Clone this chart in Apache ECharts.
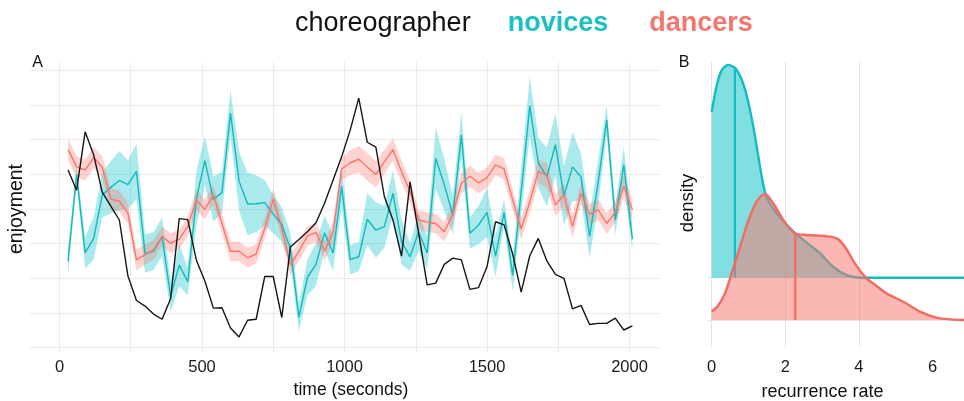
<!DOCTYPE html>
<html><head><meta charset="utf-8">
<script src="https://cdn.jsdelivr.net/npm/echarts@6/dist/echarts.min.js"></script>
<style>html,body{margin:0;padding:0;background:#fff}#c{width:964px;height:401px}</style>
</head><body><div id="c"></div>
<script>
// ---------- Panel A data ----------
const times = [30,60,90,120,150,180,210,240,270,300,330,360,390,420,450,480,510,540,570,600,630,660,690,720,750,780,810,840,870,900,930,960,990,1020,1050,1080,1110,1140,1170,1200,1230,1260,1290,1320,1350,1380,1410,1440,1470,1500,1530,1560,1590,1620,1650,1680,1710,1740,1770,1800,1830,1860,1890,1920,1950,1980,2010];
const choreographer = [5.12,4.54,6.22,5.55,4.48,4.08,3.68,2.07,1.36,1.20, 0.97,0.82,1.42,3.72,3.69,2.53,1.92,1.14,1.15,0.57, 0.31,0.79,0.82,2.05,2.05,0.87,2.90,3.12,3.34,3.60, 4.16,4.83,5.50,6.27,7.19,5.92,5.78,4.35,3.68,2.64, 4.78,3.30,1.81,1.86,2.40,2.58,2.53,1.68,1.73,2.33, 3.63,3.54,2.70,1.60,2.65,3.15,2.50,2.11,2.00,1.12, 1.22,0.67,0.70,0.70,0.85,0.51,0.63];
const novices = [2.49,4.99,2.73,3.15,4.40,4.62,4.82,4.70,5.08,2.72, 2.78,3.20,1.47,2.38,1.90,4.28,5.39,4.28,4.47,6.76, 4.80,4.14,4.15,4.18,3.85,3.55,2.86,0.88,2.03,2.40, 3.31,2.73,4.65,2.54,2.62,3.70,3.39,3.49,4.45,3.05, 2.62,3.34,2.73,5.46,4.70,3.82,6.13,3.30,3.53,3.90, 2.64,3.90,2.08,4.50,6.96,5.33,4.92,5.85,4.38,5.21, 4.92,3.21,4.76,6.56,3.68,5.27,3.13];
const novicesSE = [0.40,0.25,0.45,0.60,0.65,0.75,0.85,0.70,0.80,0.55, 0.55,0.55,0.45,0.60,0.40,0.80,0.70,0.65,0.60,0.65, 0.85,0.90,0.82,0.65,0.55,0.50,0.45,0.40,0.52,0.62, 0.50,0.52,0.60,0.42,0.42,0.75,0.80,0.60,0.65,0.65, 0.40,0.55,0.48,0.88,0.75,0.55,0.66,0.45,0.55,0.70, 0.60,0.38,0.45,0.70,0.85,0.72,0.85,0.90,0.85,1.00, 0.68,0.60,0.68,0.40,0.43,0.53,0.35];
const dancers = [5.71,5.21,5.12,5.48,5.20,4.28,4.22,3.88,2.53,2.68, 2.82,3.21,3.01,3.13,3.49,4.26,3.98,4.41,3.58,2.78, 2.78,2.59,2.70,3.44,4.28,3.44,2.38,2.78,3.22,3.32, 2.79,3.34,5.15,5.33,5.43,5.21,4.99,5.36,5.71,5.08, 4.50,3.68,3.62,3.58,3.34,3.85,4.74,4.94,4.75,4.90, 5.27,5.15,4.26,3.42,4.20,5.08,4.97,4.11,4.40,3.49, 4.45,3.85,3.97,3.58,3.90,4.65,3.98];
const dancersSE = [0.32,0.30,0.30,0.30,0.32,0.32,0.30,0.30,0.30,0.28, 0.28,0.28,0.28,0.28,0.28,0.30,0.28,0.28,0.28,0.28, 0.28,0.28,0.28,0.30,0.30,0.30,0.28,0.28,0.28,0.28, 0.28,0.30,0.32,0.35,0.38,0.40,0.38,0.35,0.32,0.32, 0.30,0.28,0.28,0.28,0.28,0.30,0.30,0.30,0.30,0.30, 0.30,0.30,0.30,0.30,0.32,0.35,0.35,0.32,0.32,0.32, 0.30,0.30,0.30,0.30,0.30,0.32,0.30];
const timeTicks = [0,500,1000,1500,2000];
const timeGrid = [0,250,500,750,1000,1250,1500,1750,2000];
const enjoymentGrid = [0,1,2,3,4,5,6,7,8];

// ---------- Panel B data ----------
const noviceDensityX = [0,0.14,0.27,0.45,0.68,0.91,1.13,1.36,1.49,1.77,2.22,2.67,2.94,3.30,3.67,4.03,4.6,6.9];
const noviceDensityY = [4.92,5.56,5.90,6.03,5.91,5.44,4.57,3.39,2.91,2.52,2.09,1.77,1.58,1.26,1.06,1.0,1.0,1.0];
const dancerDensityX = [0,0.18,0.36,0.54,0.77,1.0,1.22,1.45,1.67,1.95,2.26,2.58,3.12,3.40,3.62,3.89,4.17,4.44,4.75,5.21,5.66,6.11,6.57,6.9];
const dancerDensityY = [0.20,0.35,0.63,1.10,1.73,2.36,2.80,2.98,2.76,2.36,2.05,2.01,1.98,1.93,1.73,1.34,1.02,0.83,0.63,0.43,0.20,0.055,0.01,0];
const noviceBaseline = 1, dancerBaseline = 0;
const noviceMedian = 0.63, dancerMedian = 2.27;
const rateTicks = [0,2,4,6];

const FONT = '"Liberation Sans", Arial, Helvetica, sans-serif';
const TEAL = '#00BFC4', RED = '#F8766D';

const pairs = (xs, ys) => xs.map((x, i) => [x, ys[i]]);
function interp(xs, ys, x) {
  for (let i = 1; i < xs.length; i++) {
    if (x <= xs[i]) { const f = (x - xs[i-1]) / (xs[i] - xs[i-1]); return ys[i-1] + f * (ys[i] - ys[i-1]); }
  }
  return ys[ys.length - 1];
}
function bandSeries(mean, se, color, opacity) {
  const data = times.map((t, i) => [t, mean[i] - se[i], mean[i] + se[i]]);
  return {
    type: 'custom', xAxisIndex: 0, yAxisIndex: 0, silent: true, z: 2,
    encode: {x: 0, y: [1, 2]},
    data: data,
    renderItem: function (params, api) {
      if (params.dataIndex !== 0) return null;
      const pts = [];
      for (let i = 0; i < data.length; i++) pts.push(api.coord([data[i][0], data[i][2]]));
      for (let i = data.length - 1; i >= 0; i--) pts.push(api.coord([data[i][0], data[i][1]]));
      return {type: 'polygon', shape: {points: pts}, style: {fill: color, opacity: opacity}};
    }
  };
}

const chart = echarts.init(document.getElementById('c'), null, {renderer: 'canvas'});
const hidden = {show: false};

const gridA = [];
timeGrid.forEach(v => gridA.push({xAxis: v}));
enjoymentGrid.forEach(v => gridA.push({yAxis: v}));

const gridB = [];
[0, 2, 4].forEach(v => gridB.push({xAxis: v}));
gridB.push([{coord: [6, -0.7]}, {coord: [6, 4.16]}]);
[dancerBaseline, noviceBaseline].forEach(v => gridB.push({yAxis: v}));

const option = {
  animation: false,
  backgroundColor: '#ffffff',
  textStyle: {fontFamily: FONT},
  grid: [
    {left: 30, top: 62, width: 630, height: 290},
    {left: 707.7, top: 62, width: 256.3, height: 285}
  ],
  xAxis: [
    {type: 'value', gridIndex: 0, min: -103.5, max: 2107,
     axisLine: hidden, axisTick: hidden, splitLine: hidden,
     axisLabel: {customValues: timeTicks, formatter: v => String(v), color: '#1a1a1a', fontSize: 16.5, fontFamily: FONT, margin: 7}},
    {type: 'value', gridIndex: 1, min: -0.109, max: 6.856,
     axisLine: hidden, axisTick: hidden, splitLine: hidden,
     axisLabel: {customValues: rateTicks, formatter: v => String(v), color: '#1a1a1a', fontSize: 16.5, fontFamily: FONT, margin: 12}}
  ],
  yAxis: [
    {type: 'value', gridIndex: 0, min: -0.124, max: 8.233, show: false, splitLine: hidden},
    {type: 'value', gridIndex: 1, min: -0.638, max: 6.099, show: false, splitLine: hidden}
  ],
  graphic: [
    {type: 'text', x: 295, y: 24, style: {text: 'choreographer', font: '27px ' + FONT, fill: '#111', align: 'left', verticalAlign: 'middle'}},
    {type: 'text', x: 507.7, y: 24, style: {text: 'novices', font: 'bold 27px ' + FONT, fill: '#1CC0C4', align: 'left', verticalAlign: 'middle'}},
    {type: 'text', x: 649.3, y: 24, style: {text: 'dancers', font: 'bold 27px ' + FONT, fill: '#F5766D', align: 'left', verticalAlign: 'middle'}},
    {type: 'text', x: 37.5, y: 63, style: {text: 'A', font: '16px ' + FONT, fill: '#111', align: 'center', verticalAlign: 'middle'}},
    {type: 'text', x: 684, y: 62.5, style: {text: 'B', font: '16px ' + FONT, fill: '#111', align: 'center', verticalAlign: 'middle'}},
    {type: 'text', x: 16.7, y: 209, rotation: Math.PI / 2, style: {text: 'enjoyment', font: '19.5px ' + FONT, fill: '#111', align: 'center', verticalAlign: 'middle'}},
    {type: 'text', x: 688, y: 203, rotation: Math.PI / 2, style: {text: 'density', font: '18.5px ' + FONT, fill: '#111', align: 'center', verticalAlign: 'middle'}},
    {type: 'text', x: 351, y: 390, style: {text: 'time (seconds)', font: '17.5px ' + FONT, fill: '#111', align: 'center', verticalAlign: 'middle'}},
    {type: 'text', x: 822.5, y: 392, style: {text: 'recurrence rate', font: '18px ' + FONT, fill: '#111', align: 'center', verticalAlign: 'middle'}}
  ],
  series: [
    // panel A gridlines
    {type: 'line', xAxisIndex: 0, yAxisIndex: 0, data: [], z: 0, silent: true,
     markLine: {z: 0, silent: true, symbol: ['none', 'none'], label: hidden, animation: false,
       lineStyle: {color: '#EBEBEB', width: 1, type: 'solid'}, data: gridA}},
    bandSeries(novices, novicesSE, TEAL, 0.33),
    bandSeries(dancers, dancersSE, RED, 0.33),
    {name: 'novices', type: 'line', xAxisIndex: 0, yAxisIndex: 0, data: pairs(times, novices), symbol: 'none', z: 3,
     lineStyle: {color: '#12B8BC', width: 1.4}},
    {name: 'dancers', type: 'line', xAxisIndex: 0, yAxisIndex: 0, data: pairs(times, dancers), symbol: 'none', z: 3,
     lineStyle: {color: RED, width: 1.4}},
    {name: 'choreographer', type: 'line', xAxisIndex: 0, yAxisIndex: 0, data: pairs(times, choreographer), symbol: 'none', z: 4,
     lineStyle: {color: '#151515', width: 1.4}},

    // panel B gridlines
    {type: 'line', xAxisIndex: 1, yAxisIndex: 1, data: [], z: 0, silent: true,
     markLine: {z: 0, silent: true, symbol: ['none', 'none'], label: hidden, animation: false,
       lineStyle: {color: '#E2E2E2', width: 1, type: 'solid'}, data: gridB}},
    {type: 'line', xAxisIndex: 1, yAxisIndex: 1, data: pairs(noviceDensityX, noviceDensityY), symbol: 'none', z: 2,
     smooth: 0.3,
     lineStyle: {color: '#12BCC0', width: 2.4},
     areaStyle: {color: TEAL, opacity: 0.5, origin: noviceBaseline}},
    {type: 'line', xAxisIndex: 1, yAxisIndex: 1, symbol: 'none', z: 2,
     data: [[noviceMedian, noviceBaseline], [noviceMedian, +interp(noviceDensityX, noviceDensityY, noviceMedian).toFixed(3)]],
     lineStyle: {color: '#12BCC0', width: 2.2}},
    {type: 'line', xAxisIndex: 1, yAxisIndex: 1, data: pairs(dancerDensityX, dancerDensityY), symbol: 'none', z: 3,
     smooth: 0.3,
     lineStyle: {color: '#F26A61', width: 2.4},
     areaStyle: {color: RED, opacity: 0.52, origin: dancerBaseline}},
    {type: 'line', xAxisIndex: 1, yAxisIndex: 1, symbol: 'none', z: 4,
     data: [[dancerMedian, dancerBaseline], [dancerMedian, +interp(dancerDensityX, dancerDensityY, dancerMedian).toFixed(3)]],
     lineStyle: {color: '#F26A61', width: 2.2}}
  ]
};
chart.setOption(option);
</script>
</body></html>
